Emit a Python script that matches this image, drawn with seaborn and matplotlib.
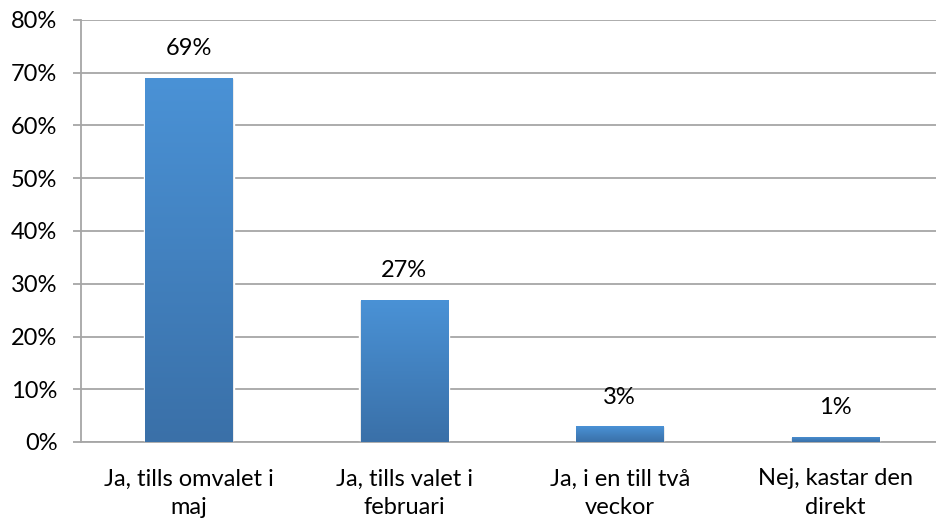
import numpy as np
import pandas as pd
import seaborn as sns
import matplotlib.pyplot as plt
from matplotlib.colors import LinearSegmentedColormap
from matplotlib.ticker import MultipleLocator, FuncFormatter

# answers and share of respondents (%)
categories = ["Ja, tills omvalet i\nmaj", "Ja, tills valet i\nfebruari",
              "Ja, i en till två\nveckor", "Nej, kastar den\ndirekt"]
shares = [69, 27, 3, 1]

df = pd.DataFrame({"svar": categories, "andel": shares})

sns.set_style("white")
plt.rcParams["font.family"] = ["Lato", "DejaVu Sans"]

fig = plt.figure(figsize=(9.36, 5.23), dpi=100)
ax = fig.add_axes([81 / 936, 81 / 523, 862 / 936, 422 / 523])

sns.barplot(data=df, x="svar", y="andel", color="#4a90d4", width=0.405,
            saturation=1, ax=ax, zorder=3)

ax.set_ylim(0, 80)
ax.set_xlim(-0.5, len(categories) - 0.5)
ax.yaxis.set_major_locator(MultipleLocator(10))
ax.yaxis.set_major_formatter(FuncFormatter(lambda v, p: f"{v:.0f}%"))
ax.grid(axis="y", color="#a6a6a6", linewidth=1.3, zorder=0)
ax.set_axisbelow(True)

for s in ["top", "right"]:
    ax.spines[s].set_visible(False)
for s in ["left", "bottom"]:
    ax.spines[s].set_color("#a6a6a6")
    ax.spines[s].set_linewidth(1.3)

# gradient fill inside every bar, lighter on top
grad = LinearSegmentedColormap.from_list("g", ["#3a70a8", "#4a92d6"])
img = np.linspace(0, 1, 256).reshape(-1, 1)
for bar, v in zip(ax.patches, shares):
    x0, w = bar.get_x(), bar.get_width()
    # soft shadow
    ax.bar(x0 + w / 2, v, width=w + 0.012, color="#e2e2e2", zorder=2)
    im = ax.imshow(img, cmap=grad, aspect="auto", origin="lower",
                   extent=[x0, x0 + w, 0, v], zorder=4)
    im.set_clip_path(bar)
    ax.annotate(f"{v}%", (x0 + w / 2, v), xytext=(0, 21),
                textcoords="offset points", ha="center", va="center",
                fontsize=17, color="black")
ax.set_xlim(-0.5, len(categories) - 0.5)
ax.set_ylim(0, 80)

# category ticks sit between the groups, like the original
ax.set_xticks(np.arange(len(categories)))
ax.set_xticklabels(categories, fontsize=17, color="black", linespacing=1.45)
ax.tick_params(axis="x", length=0, pad=19)
ax.set_xticks(np.arange(len(categories)) - 0.5, minor=True)
ax.tick_params(axis="x", which="minor", length=8, width=1.3, color="#a6a6a6")
ax.tick_params(axis="y", labelsize=17, labelcolor="black", length=6,
               width=1.3, color="#a6a6a6", left=True, pad=11)
ax.set_xlabel("")
ax.set_ylabel("")

fig.savefig("out.png", dpi=100)
